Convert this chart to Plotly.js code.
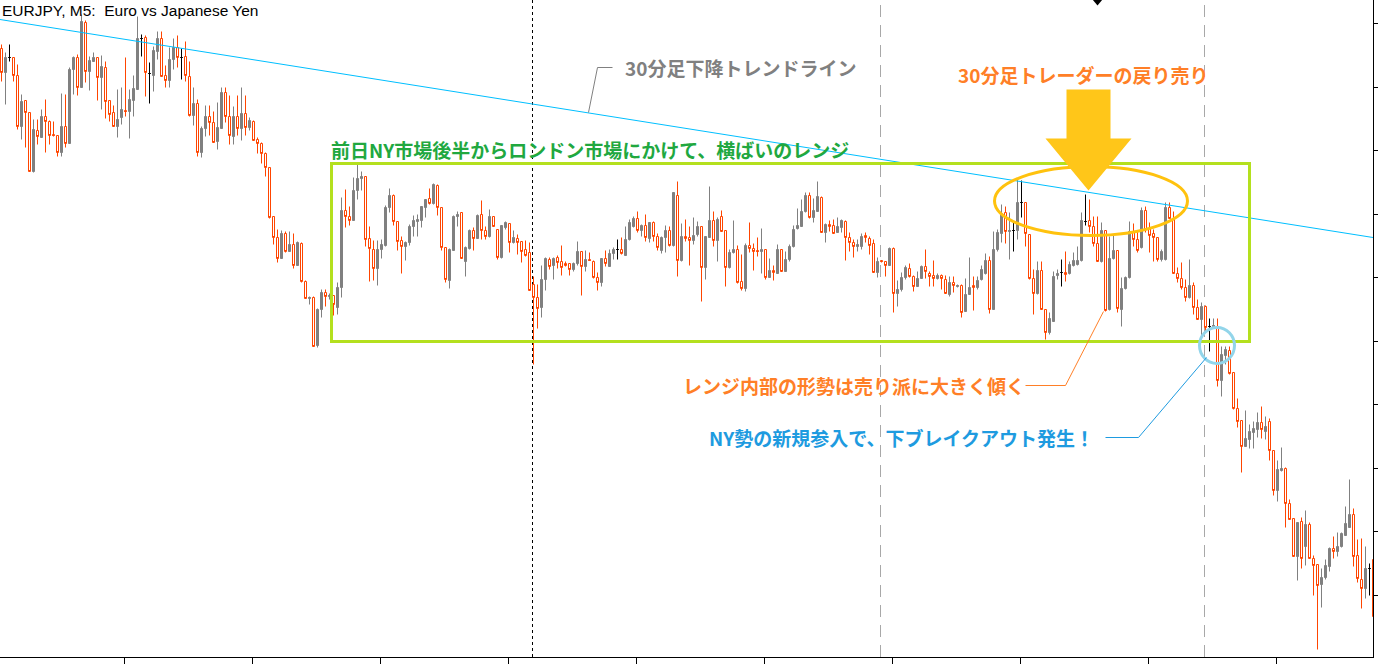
<!DOCTYPE html>
<html>
<head>
<meta charset="utf-8">
<script src="https://cdn.plot.ly/plotly-3.0.1.min.js"></script>
<style>
html,body{margin:0;padding:0;background:#fff;}
#chart{width:1378px;height:665px;}
</style>
</head>
<body>
<div id="chart"></div>
<script>
// EURJPY M5 candles (prices, oldest -> newest)
const candleOpen = [
123.951,123.927,123.942,123.942,123.924,123.873,123.899,123.887,123.828,123.869,123.862,123.883,123.878,123.865,123.864,123.847,123.873,123.856,123.930,123.942,
123.912,123.977,123.928,123.938,123.942,123.922,123.932,123.899,123.887,123.873,123.882,123.889,123.888,123.899,123.910,123.961,123.962,123.926,123.924,123.948,
123.961,123.924,123.919,123.940,123.952,123.942,123.943,123.923,123.884,123.896,123.847,123.871,123.883,123.877,123.858,123.871,123.907,123.883,123.863,123.883,
123.871,123.886,123.872,123.878,123.860,123.856,123.846,123.832,123.783,123.762,123.741,123.766,123.748,123.755,123.734,123.756,123.718,123.701,123.702,123.654,
123.690,123.707,123.703,123.704,123.692,123.712,123.789,123.783,123.779,123.809,123.821,123.823,123.761,123.750,123.731,123.750,123.754,123.792,123.804,123.778,
123.759,123.753,123.757,123.773,123.778,123.779,123.792,123.801,123.796,123.814,123.792,123.752,123.719,123.749,123.783,123.787,123.738,123.751,123.769,123.761,
123.785,123.769,123.763,123.783,123.770,123.742,123.772,123.776,123.757,123.761,123.758,123.750,123.747,123.715,123.702,123.692,123.720,123.740,123.734,123.742,
123.738,123.736,123.736,123.730,123.736,123.748,123.733,123.740,123.738,123.722,123.717,123.741,123.733,123.746,123.750,123.750,123.744,123.760,123.773,123.781,
123.769,123.774,123.761,123.777,123.763,123.749,123.762,123.769,123.754,123.804,123.739,123.763,123.762,123.759,123.765,123.773,123.732,123.762,123.779,123.759,
123.783,123.769,123.732,123.747,123.750,123.718,123.711,123.754,123.751,123.749,123.748,123.750,123.722,123.729,123.726,123.750,123.728,123.740,123.753,123.771,
123.773,123.788,123.804,123.782,123.788,123.802,123.767,123.775,123.774,123.767,123.772,123.778,123.762,123.757,123.753,123.753,123.764,123.761,123.756,123.727,
123.739,123.738,123.734,123.751,123.706,123.710,123.722,123.731,123.723,123.713,123.721,123.733,123.726,123.724,123.721,123.724,123.720,123.705,123.717,123.713,
123.714,123.688,123.705,123.714,123.712,123.720,123.726,123.739,123.690,123.750,123.766,123.787,123.768,123.769,123.769,123.797,123.797,123.765,123.721,123.706,
123.729,123.690,123.667,123.678,123.724,123.727,123.727,123.726,123.734,123.735,123.739,123.778,123.779,123.773,123.756,123.738,123.769,123.690,123.741,123.749,
123.690,123.711,123.722,123.767,123.760,123.752,123.789,123.771,123.766,123.762,123.740,123.740,123.792,123.781,123.726,123.721,123.712,123.702,123.714,123.692,
123.680,123.693,123.673,123.673,123.673,123.619,123.644,123.649,123.627,123.591,123.579,123.553,123.560,123.567,123.570,123.577,123.568,123.578,123.549,123.509,
123.529,123.531,123.496,123.481,123.443,123.478,123.453,123.475,123.441,123.435,123.415,123.422,123.433,123.451,123.448,123.453,123.464,123.472,123.485,123.444,
123.420,123.411,123.431,123.440
];
const candleHigh = [
123.955,123.947,123.955,123.942,123.935,123.905,123.899,123.887,123.880,123.880,123.890,123.900,123.879,123.878,123.864,123.906,123.905,123.932,123.943,123.945,
123.985,123.979,123.943,123.947,123.942,123.944,123.938,123.899,123.894,123.910,123.912,123.942,123.910,123.924,123.983,123.965,123.964,123.937,123.953,123.968,
123.968,123.934,123.952,123.961,123.964,123.951,123.958,123.938,123.912,123.900,123.873,123.894,123.894,123.888,123.897,123.912,123.912,123.904,123.893,123.904,
123.912,123.904,123.882,123.879,123.862,123.857,123.847,123.832,123.783,123.770,123.769,123.768,123.768,123.766,123.758,123.757,123.719,123.703,123.703,123.691,
123.710,123.710,123.706,123.704,123.717,123.802,123.810,123.793,123.822,123.835,123.828,123.823,123.773,123.759,123.759,123.760,123.794,123.811,123.805,123.778,
123.763,123.758,123.775,123.784,123.785,123.793,123.800,123.811,123.816,123.815,123.792,123.752,123.751,123.784,123.788,123.787,123.753,123.770,123.772,123.785,
123.799,123.773,123.790,123.783,123.770,123.774,123.778,123.776,123.769,123.765,123.758,123.759,123.757,123.723,123.715,123.734,123.742,123.742,123.742,123.744,
123.754,123.738,123.736,123.737,123.758,123.748,123.749,123.747,123.739,123.727,123.741,123.749,123.750,123.752,123.760,123.762,123.773,123.780,123.783,123.788,
123.775,123.785,123.777,123.778,123.766,123.763,123.774,123.773,123.807,123.818,123.776,123.780,123.773,123.782,123.778,123.773,123.763,123.813,123.788,123.782,
123.789,123.769,123.750,123.779,123.754,123.745,123.756,123.777,123.756,123.762,123.771,123.750,123.741,123.734,123.755,123.750,123.748,123.755,123.774,123.791,
123.800,123.807,123.807,123.801,123.818,123.803,123.776,123.779,123.780,123.782,123.780,123.779,123.767,123.760,123.760,123.766,123.767,123.763,123.760,123.742,
123.739,123.738,123.752,123.752,123.719,123.727,123.734,123.736,123.724,123.728,123.734,123.750,123.728,123.739,123.726,123.725,123.724,123.723,123.723,123.715,
123.715,123.721,123.742,123.723,123.723,123.734,123.746,123.743,123.768,123.770,123.795,123.793,123.787,123.777,123.820,123.819,123.797,123.765,123.730,123.738,
123.738,123.690,123.687,123.728,123.730,123.740,123.748,123.738,123.747,123.753,123.787,123.805,123.800,123.783,123.783,123.777,123.769,123.763,123.764,123.749,
123.722,123.723,123.778,123.776,123.768,123.792,123.793,123.777,123.770,123.762,123.750,123.797,123.797,123.788,123.732,123.737,123.720,123.740,123.717,123.700,
123.697,123.694,123.681,123.681,123.681,123.653,123.653,123.653,123.627,123.601,123.579,123.589,123.575,123.578,123.587,123.593,123.583,123.581,123.549,123.539,
123.552,123.532,123.500,123.481,123.477,123.482,123.489,123.477,123.444,123.435,123.431,123.440,123.452,123.463,123.467,123.467,123.493,123.520,123.491,123.460,
123.461,123.453,123.436,123.440
];
const candleLow = [
123.918,123.895,123.938,123.918,123.870,123.860,123.852,123.828,123.827,123.855,123.862,123.847,123.855,123.863,123.843,123.843,123.852,123.856,123.905,123.904,
123.912,123.917,123.909,123.938,123.899,123.890,123.881,123.878,123.873,123.862,123.875,123.883,123.861,123.883,123.910,123.943,123.903,123.896,123.908,123.940,
123.923,123.912,123.912,123.930,123.932,123.920,123.918,123.883,123.874,123.843,123.842,123.863,123.864,123.857,123.850,123.871,123.877,123.855,123.855,123.864,
123.859,123.864,123.869,123.859,123.846,123.836,123.823,123.781,123.755,123.737,123.741,123.747,123.748,123.731,123.734,123.717,123.701,123.695,123.653,123.652,
123.682,123.693,123.700,123.684,123.685,123.702,123.772,123.774,123.779,123.800,123.809,123.753,123.718,123.719,123.714,123.741,123.753,123.787,123.774,123.749,
123.726,123.739,123.754,123.763,123.763,123.772,123.782,123.795,123.795,123.784,123.749,123.717,123.711,123.749,123.773,123.741,123.723,123.750,123.749,123.761,
123.760,123.760,123.762,123.773,123.740,123.741,123.770,123.747,123.756,123.745,123.737,123.743,123.709,123.635,123.671,123.682,123.709,123.730,123.720,123.731,
123.724,123.733,123.724,123.728,123.734,123.704,123.728,123.739,123.721,123.709,123.713,123.733,123.733,123.740,123.740,123.745,123.744,123.759,123.772,123.767,
123.763,123.758,123.757,123.758,123.749,123.746,123.747,123.753,123.753,123.723,123.738,123.758,123.734,123.755,123.763,123.698,123.720,123.762,123.753,123.738,
123.768,123.713,123.731,123.746,123.716,123.709,123.708,123.747,123.729,123.743,123.726,123.720,123.722,123.719,123.726,123.728,123.728,123.738,123.752,123.770,
123.773,123.787,123.781,123.777,123.788,123.767,123.757,123.768,123.766,123.767,123.767,123.739,123.748,123.742,123.748,123.750,123.757,123.745,123.727,123.722,
123.737,123.723,123.734,123.687,123.693,123.708,123.720,123.722,123.708,123.713,123.721,123.721,123.713,123.713,123.720,123.710,123.706,123.703,123.707,123.712,
123.682,123.688,123.705,123.689,123.710,123.719,123.725,123.686,123.690,123.748,123.757,123.756,123.740,123.748,123.760,123.782,123.753,123.720,123.685,123.705,
123.690,123.660,123.665,123.678,123.720,123.713,123.718,123.725,123.733,123.734,123.738,123.774,123.767,123.753,123.738,123.737,123.688,123.689,123.740,123.687,
123.673,123.710,123.721,123.753,123.747,123.751,123.767,123.747,123.738,123.738,123.738,123.739,123.781,123.726,123.717,123.710,123.698,123.701,123.685,123.680,
123.663,123.667,123.648,123.672,123.613,123.603,123.635,123.625,123.590,123.572,123.527,123.553,123.551,123.551,123.562,123.561,123.560,123.539,123.504,123.498,
123.528,123.472,123.480,123.443,123.419,123.431,123.434,123.441,123.404,123.350,123.392,123.420,123.428,123.441,123.443,123.452,123.464,123.472,123.433,123.417,
123.391,123.401,123.404,123.375
];
const candleClose = [
123.927,123.942,123.942,123.924,123.873,123.898,123.887,123.828,123.870,123.863,123.883,123.878,123.864,123.864,123.847,123.873,123.856,123.930,123.942,123.912,
123.978,123.928,123.939,123.942,123.922,123.933,123.898,123.885,123.873,123.880,123.890,123.888,123.900,123.911,123.961,123.961,123.927,123.926,123.949,123.961,
123.923,123.919,123.940,123.952,123.942,123.942,123.924,123.884,123.896,123.847,123.871,123.883,123.877,123.857,123.872,123.907,123.883,123.864,123.883,123.871,
123.886,123.872,123.879,123.859,123.856,123.846,123.832,123.782,123.762,123.741,123.766,123.748,123.755,123.734,123.757,123.718,123.701,123.702,123.653,123.690,
123.707,123.703,123.704,123.695,123.712,123.789,123.783,123.779,123.809,123.821,123.823,123.760,123.751,123.731,123.750,123.755,123.792,123.804,123.778,123.758,
123.753,123.757,123.773,123.779,123.780,123.793,123.800,123.796,123.815,123.792,123.752,123.720,123.750,123.783,123.785,123.741,123.752,123.769,123.761,123.784,
123.769,123.763,123.783,123.773,123.742,123.774,123.777,123.757,123.762,123.757,123.748,123.744,123.709,123.702,123.691,123.720,123.741,123.733,123.741,123.737,
123.732,123.734,123.730,123.736,123.748,123.733,123.740,123.739,123.722,123.717,123.741,123.736,123.746,123.750,123.750,123.746,123.760,123.777,123.781,123.769,
123.774,123.762,123.777,123.763,123.752,123.762,123.769,123.754,123.807,123.739,123.763,123.761,123.759,123.764,123.773,123.732,123.763,123.779,123.759,123.780,
123.768,123.732,123.747,123.750,123.717,123.711,123.754,123.751,123.748,123.748,123.750,123.722,123.729,123.727,123.750,123.728,123.740,123.753,123.770,123.774,
123.788,123.804,123.782,123.789,123.803,123.767,123.775,123.773,123.766,123.773,123.779,123.762,123.757,123.753,123.755,123.763,123.762,123.754,123.727,123.738,
123.738,123.734,123.751,123.706,123.710,123.722,123.732,123.723,123.713,123.721,123.733,123.728,123.723,123.721,123.724,123.721,123.706,123.717,123.714,123.714,
123.687,123.705,123.712,123.712,123.719,123.730,123.739,123.690,123.750,123.767,123.786,123.768,123.769,123.769,123.797,123.797,123.766,123.721,123.706,123.729,
123.690,123.667,123.681,123.723,123.726,123.727,123.725,123.735,123.739,123.739,123.779,123.778,123.773,123.756,123.738,123.769,123.689,123.741,123.749,123.691,
123.711,123.722,123.768,123.760,123.749,123.789,123.770,123.764,123.762,123.740,123.748,123.792,123.781,123.726,123.721,123.712,123.702,123.714,123.692,123.680,
123.693,123.672,123.673,123.674,123.619,123.645,123.650,123.626,123.591,123.578,123.553,123.561,123.568,123.571,123.577,123.570,123.573,123.549,123.509,123.530,
123.531,123.496,123.480,123.443,123.477,123.441,123.475,123.441,123.434,123.414,123.422,123.434,123.451,123.448,123.453,123.466,123.476,123.485,123.443,123.421,
123.411,123.431,123.431,123.383
];
const chartTitle = 'EURJPY, M5:\u00a0 Euro vs Japanese Yen';
const labels = {
  range: '前日NY市場後半からロンドン市場にかけて、横ばいのレンジ',
  trend: '30分足下降トレンドライン',
  pullback: '30分足トレーダーの戻り売り',
  inside: 'レンジ内部の形勢は売り派に大きく傾く',
  breakout: 'NY勢の新規参入で、下ブレイクアウト発生！'
};

const barIndex = candleOpen.map((_, i) => i);

function subset(pred) {
  const o = {x: [], open: [], high: [], low: [], close: []};
  barIndex.forEach(i => {
    if (pred(candleOpen[i], candleClose[i])) {
      o.x.push(i); o.open.push(candleOpen[i]); o.high.push(candleHigh[i]);
      o.low.push(candleLow[i]); o.close.push(candleClose[i]);
    }
  });
  return o;
}
function candleTrace(d, lineColor, fill) {
  return {
    type: 'candlestick', x: d.x, open: d.open, high: d.high, low: d.low, close: d.close,
    increasing: {line: {color: lineColor, width: 1}, fillcolor: fill},
    decreasing: {line: {color: lineColor, width: 1}, fillcolor: fill},
    whiskerwidth: 0, hoverinfo: 'skip', showlegend: false
  };
}
const up = subset((o, c) => c > o);
const down = subset((o, c) => c < o);
const doji = subset((o, c) => c === o);

const traces = [
  candleTrace(up, '#808080', '#808080'),
  candleTrace(down, '#FF4500', '#FFFFFF'),
  candleTrace(doji, '#000000', '#000000')
];

const xTicks = [];
for (let k = 0; k < 10; k++) xTicks.push(30.75 + 32 * k);
const yTicks = [];
for (let k = 0; k < 10; k++) yTicks.push(123.976 - 0.0635 * k);

const jp = '"Noto Sans CJK JP", "Noto Sans", sans-serif';
function note(text, x, y, color) {
  return {text: '<b>' + text + '</b>', x: x, y: y, xref: 'x', yref: 'y', xanchor: 'left', yanchor: 'middle',
    showarrow: false, font: {family: jp, size: 19, color: color}};
}
function seg(x0, y0, x1, y1, color, width, dash) {
  return {type: 'line', xref: 'x', yref: 'y', x0: x0, y0: y0, x1: x1, y1: y1,
    line: {color: color, width: width || 1, dash: dash || 'solid'}, layer: 'above'};
}

const layout = {
  width: 1378, height: 665,
  margin: {l: 0, r: 5, t: 0, b: 8, pad: 0},
  paper_bgcolor: '#FFFFFF', plot_bgcolor: '#FFFFFF',
  showlegend: false,
  boxgap: 0.5, boxgroupgap: 0,
  xaxis: {
    type: 'linear', range: [-0.375, 342.875], fixedrange: true,
    showgrid: false, zeroline: false, showline: true, linecolor: '#000', linewidth: 1,
    ticks: 'outside', ticklen: 6, tickcolor: '#000', tickwidth: 1,
    tickmode: 'array', tickvals: xTicks, showticklabels: false,
    rangeslider: {visible: false}
  },
  yaxis: {
    side: 'right', range: [123.3425, 123.9995], fixedrange: true,
    showgrid: false, zeroline: false, showline: true, linecolor: '#000', linewidth: 1,
    ticks: 'outside', ticklen: 5, tickcolor: '#000', tickwidth: 1,
    tickmode: 'array', tickvals: yTicks, showticklabels: false
  },
  shapes: [
    {type: 'line', xref: 'x', yref: 'paper', x0: 132.75, x1: 132.75, y0: 0, y1: 1,
      line: {color: '#000000', width: 1, dash: '3px,3px'}, layer: 'below'},
    {type: 'line', xref: 'x', yref: 'paper', x0: 219.75, x1: 219.75, y0: 0, y1: 1,
      line: {color: '#A8A8A8', width: 1, dash: '12px,8px'}, layer: 'below'},
    {type: 'line', xref: 'x', yref: 'paper', x0: 300.75, x1: 300.75, y0: 0, y1: 1,
      line: {color: '#A8A8A8', width: 1, dash: '12px,8px'}, layer: 'below'},
    // 30-min downtrend line
    seg(-0.375, 123.980, 342.875, 123.762, '#00BFFF', 1),
    // range box
    {type: 'rect', xref: 'x', yref: 'y', x0: 82.5, x1: 312, y0: 123.836, y1: 123.658,
      line: {color: '#B4E01E', width: 3}, fillcolor: 'rgba(0,0,0,0)', layer: 'above'},
    // ellipse around highs
    {type: 'circle', xref: 'x', yref: 'y', x0: 248.25, x1: 296.5, y0: 123.833, y1: 123.764,
      line: {color: '#FFC20E', width: 3}, fillcolor: 'rgba(0,0,0,0)', layer: 'above'},
    // big arrow
    {type: 'path', xref: 'x', yref: 'y',
      path: 'M266.25,123.910 L277.25,123.910 L277.25,123.861 L282.5,123.861 L271.75,123.809 L261,123.861 L266.25,123.861 Z',
      fillcolor: '#FFC619', line: {width: 0}, layer: 'above'},
    // breakout circle
    {type: 'circle', xref: 'x', yref: 'y', x0: 299.5, x1: 308.25, y0: 123.672, y1: 123.636,
      line: {color: '#92D5EA', width: 3}, fillcolor: 'rgba(0,0,0,0)', layer: 'above'},
    // leader lines
    seg(149, 123.932, 152.75, 123.932, '#808080', 1),
    seg(149, 123.932, 146.75, 123.887, '#808080', 1),
    seg(256, 123.614, 266, 123.614, '#FF7F27', 1),
    seg(266, 123.614, 275.5, 123.688, '#FF7F27', 1),
    seg(276, 123.562, 284.25, 123.562, '#1E9BE0', 1),
    seg(284.25, 123.562, 301.25, 123.642, '#1E9BE0', 1),
    // small shift marker at top
    {type: 'path', xref: 'x', yref: 'y', path: 'M272.75,124.0 L275.25,124.0 L274,123.994 Z',
      fillcolor: '#000', line: {width: 0}, layer: 'above'}
  ],
  annotations: [
    {text: chartTitle, xref: 'paper', yref: 'paper', x: 0, y: 1, xanchor: 'left', yanchor: 'top',
      showarrow: false, font: {family: '"Liberation Sans", Arial, sans-serif', size: 15.5, color: '#000'}},
    note(labels.range, 81.75, 123.850, '#21A83F'),
    note(labels.trend, 155.25, 123.932, '#808080'),
    note(labels.pullback, 238.5, 123.925, '#FF7F27'),
    note(labels.inside, 169.75, 123.614, '#FF7F27'),
    note(labels.breakout, 176.25, 123.562, '#1E9BE0')
  ]
};

Plotly.newPlot('chart', traces, layout, {staticPlot: true, displayModeBar: false});
</script>
</body>
</html>
